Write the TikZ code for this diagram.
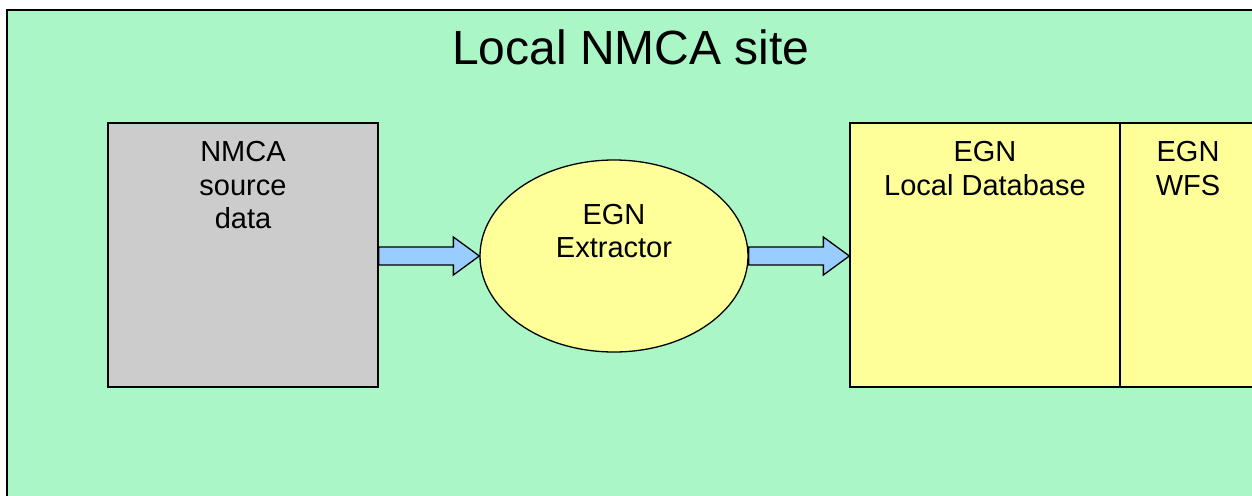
\documentclass[tikz,border=0pt]{standalone}
\usepackage{fontspec}
\setmainfont{Liberation Sans}
\usetikzlibrary{calc,shapes.geometric}
\definecolor{bggreen}{RGB}{170,246,198}
\definecolor{boxgray}{RGB}{204,204,204}
\definecolor{boxyellow}{RGB}{255,255,153}
\definecolor{arrowblue}{RGB}{153,204,255}
\begin{document}
\begin{tikzpicture}[x=1pt,y=-1pt,
  site/.style={draw=black,line width=2pt,fill=bggreen,minimum width=1255pt,minimum height=495pt,inner sep=0pt},
  srcbox/.style={draw=black,line width=1.3pt,fill=boxgray,minimum width=270pt,minimum height=264pt,inner sep=0pt},
  ybox/.style={draw=black,line width=1.3pt,fill=boxyellow,minimum height=264pt,inner sep=0pt},
  extell/.style={ellipse,draw=black,line width=1.3pt,fill=boxyellow,minimum width=268pt,minimum height=192pt,inner sep=0pt},
  lbl/.style={anchor=north,inner sep=0pt,align=center,font=\fontsize{29}{33.5}\selectfont},
  blockarrow/.style={draw=black,line width=1.3pt,fill=arrowblue,line join=miter}
]
\useasboundingbox (0,0) rectangle (1252,495);
\clip (0,0) rectangle (1252,495);
\node[site] (site) at (634.5,257.5) {};
\node[anchor=base,inner sep=0pt,font=\fontsize{48}{55}\selectfont] (title) at (631,65) {Local NMCA site};
\node[srcbox] (src) at (243,255) {};
\node[extell] (ext) at (614,256) {};
\node[ybox,minimum width=270pt] (db) at (985,255) {};
\node[ybox,minimum width=136pt] (wfs) at (1188,255) {};
\node[lbl] (srct) at (243,141.2) {NMCA\\source\\data};
\node[lbl] (extt) at (614,203.7) {EGN\\Extractor};
\node[lbl] (dbt) at (985,141.2) {EGN\\Local Database};
\node[lbl] (wfst) at (1188,141.2) {EGN\\WFS};
\draw[blockarrow] ($(src.east |- ext.west)+(0,-9)$) -- ($(ext.west)+(-26,-9)$) -- ($(ext.west)+(-26,-19)$) -- (ext.west) -- ($(ext.west)+(-26,19)$) -- ($(ext.west)+(-26,9)$) -- ($(src.east |- ext.west)+(0,9)$) -- cycle;
\draw[blockarrow] ($(ext.east)+(0,-9)$) -- ($(db.west |- ext.east)+(-26,-9)$) -- ($(db.west |- ext.east)+(-26,-19)$) -- (db.west |- ext.east) -- ($(db.west |- ext.east)+(-26,19)$) -- ($(db.west |- ext.east)+(-26,9)$) -- ($(ext.east)+(0,9)$) -- cycle;
\end{tikzpicture}
\end{document}
